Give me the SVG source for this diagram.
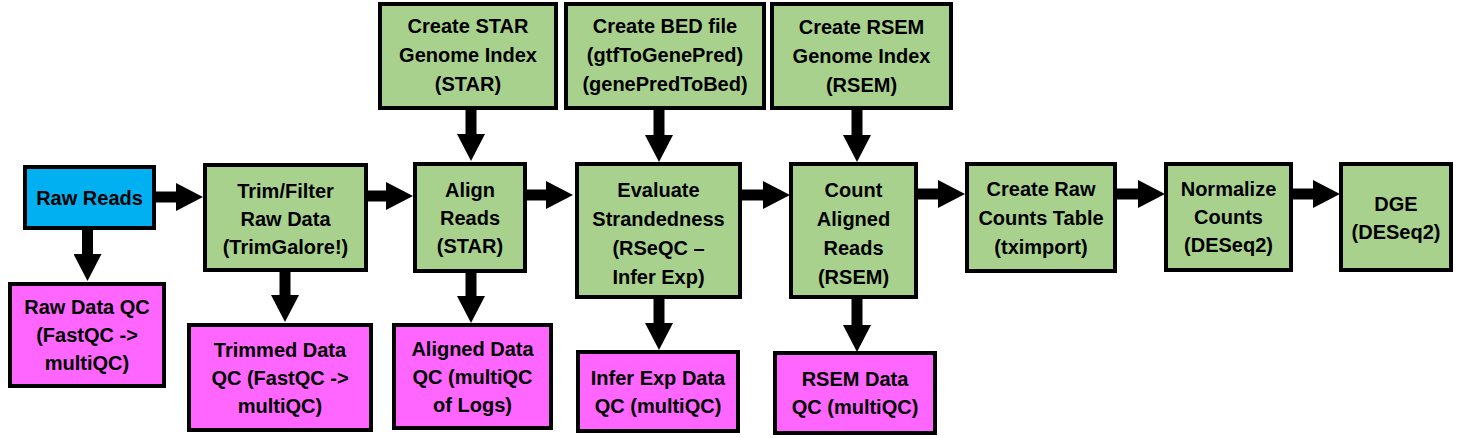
<svg xmlns="http://www.w3.org/2000/svg" width="1459" height="438" viewBox="0 0 1459 438">
<defs>
<style>
.box{stroke:#000;stroke-width:4}
.green{fill:#A9D18E}
.blue{fill:#00B0F0}
.pink{fill:#FF66FF}
text{font-family:"Liberation Sans",Arial,sans-serif;font-weight:bold;font-size:20px;fill:#000;text-anchor:middle}
.conn line{stroke:#000;stroke-width:11;marker-end:url(#ah)}
</style>
<marker id="ah" markerUnits="userSpaceOnUse" markerWidth="27" markerHeight="28" refX="0" refY="14" orient="auto" viewBox="0 0 27 28">
<path d="M0,0 L27,14 L0,28 Z" fill="#000"/>
</marker>
</defs>
<rect width="1459" height="438" fill="#fff"/>

<g id="connectors" class="conn">
<line x1="154" y1="197" x2="176" y2="197"/>
<line x1="87.5" y1="228" x2="87.5" y2="254"/>
<line x1="366" y1="196" x2="386" y2="196"/>
<line x1="285" y1="270" x2="285" y2="295"/>
<line x1="471" y1="108" x2="471" y2="134"/>
<line x1="525" y1="195" x2="546" y2="195"/>
<line x1="471" y1="271" x2="471" y2="296"/>
<line x1="659" y1="108" x2="659" y2="135"/>
<line x1="740" y1="195" x2="763" y2="195"/>
<line x1="659" y1="297" x2="659" y2="323"/>
<line x1="857" y1="108" x2="857" y2="135"/>
<line x1="916" y1="194" x2="938" y2="194"/>
<line x1="857" y1="297" x2="857" y2="325"/>
<line x1="1115" y1="194" x2="1138" y2="194"/>
<line x1="1291" y1="194" x2="1313" y2="194"/>
</g>

<g id="raw_reads">
<rect class="box blue" x="25" y="167" width="129" height="61"/>
<text x="89.5" y="204.5">Raw Reads</text>
</g>
<g id="raw_data_qc">
<rect class="box pink" x="10" y="284" width="154" height="102"/>
<text x="87" y="314">Raw Data QC</text>
<text x="87" y="342">(FastQC -&gt;</text>
<text x="87" y="370">multiQC)</text>
</g>
<g id="trim_filter">
<rect class="box green" x="205" y="165" width="161" height="105"/>
<text x="285.5" y="198">Trim/Filter</text>
<text x="285.5" y="226">Raw Data</text>
<text x="285.5" y="254">(TrimGalore!)</text>
</g>
<g id="trimmed_data_qc">
<rect class="box pink" x="189" y="325" width="182" height="105"/>
<text x="280" y="357">Trimmed Data</text>
<text x="280" y="385">QC (FastQC -&gt;</text>
<text x="280" y="413">multiQC)</text>
</g>
<g id="star_index">
<rect class="box green" x="380" y="4" width="176" height="104"/>
<text x="468" y="33">Create STAR</text>
<text x="468" y="62">Genome Index</text>
<text x="468" y="91">(STAR)</text>
</g>
<g id="align_reads">
<rect class="box green" x="415" y="164" width="110" height="107"/>
<text x="470" y="197">Align</text>
<text x="470" y="225">Reads</text>
<text x="470" y="253">(STAR)</text>
</g>
<g id="aligned_data_qc">
<rect class="box pink" x="394" y="325" width="157" height="103"/>
<text x="472.5" y="356">Aligned Data</text>
<text x="472.5" y="384">QC (multiQC</text>
<text x="472.5" y="412">of Logs)</text>
</g>
<g id="bed_file">
<rect class="box green" x="566" y="4" width="198" height="104"/>
<text x="665" y="33">Create BED file</text>
<text x="665" y="62">(gtfToGenePred)</text>
<text x="665" y="91">(genePredToBed)</text>
</g>
<g id="evaluate_strandedness">
<rect class="box green" x="577" y="164" width="163" height="133"/>
<text x="658.5" y="197">Evaluate</text>
<text x="658.5" y="226">Strandedness</text>
<text x="658.5" y="255">(RSeQC –</text>
<text x="658.5" y="284">Infer Exp)</text>
</g>
<g id="infer_exp_qc">
<rect class="box pink" x="578" y="352" width="160" height="79"/>
<text x="658" y="385">Infer Exp Data</text>
<text x="658" y="413">QC (multiQC)</text>
</g>
<g id="rsem_index">
<rect class="box green" x="772" y="4" width="179" height="104"/>
<text x="861.5" y="34">Create RSEM</text>
<text x="861.5" y="63">Genome Index</text>
<text x="861.5" y="92">(RSEM)</text>
</g>
<g id="count_reads">
<rect class="box green" x="791" y="164" width="125" height="133"/>
<text x="853.5" y="197">Count</text>
<text x="853.5" y="226">Aligned</text>
<text x="853.5" y="255">Reads</text>
<text x="853.5" y="284">(RSEM)</text>
</g>
<g id="rsem_qc">
<rect class="box pink" x="775" y="353" width="160" height="80"/>
<text x="855" y="386">RSEM Data</text>
<text x="855" y="414">QC (multiQC)</text>
</g>
<g id="raw_counts_table">
<rect class="box green" x="967" y="164" width="148" height="107"/>
<text x="1041" y="196">Create Raw</text>
<text x="1041" y="225">Counts Table</text>
<text x="1041" y="254">(tximport)</text>
</g>
<g id="normalize_counts">
<rect class="box green" x="1166" y="164" width="125" height="106"/>
<text x="1228.5" y="196">Normalize</text>
<text x="1228.5" y="224">Counts</text>
<text x="1228.5" y="252">(DESeq2)</text>
</g>
<g id="dge">
<rect class="box green" x="1341" y="164" width="110" height="106"/>
<text x="1396" y="211">DGE</text>
<text x="1396" y="239">(DESeq2)</text>
</g>
</svg>
